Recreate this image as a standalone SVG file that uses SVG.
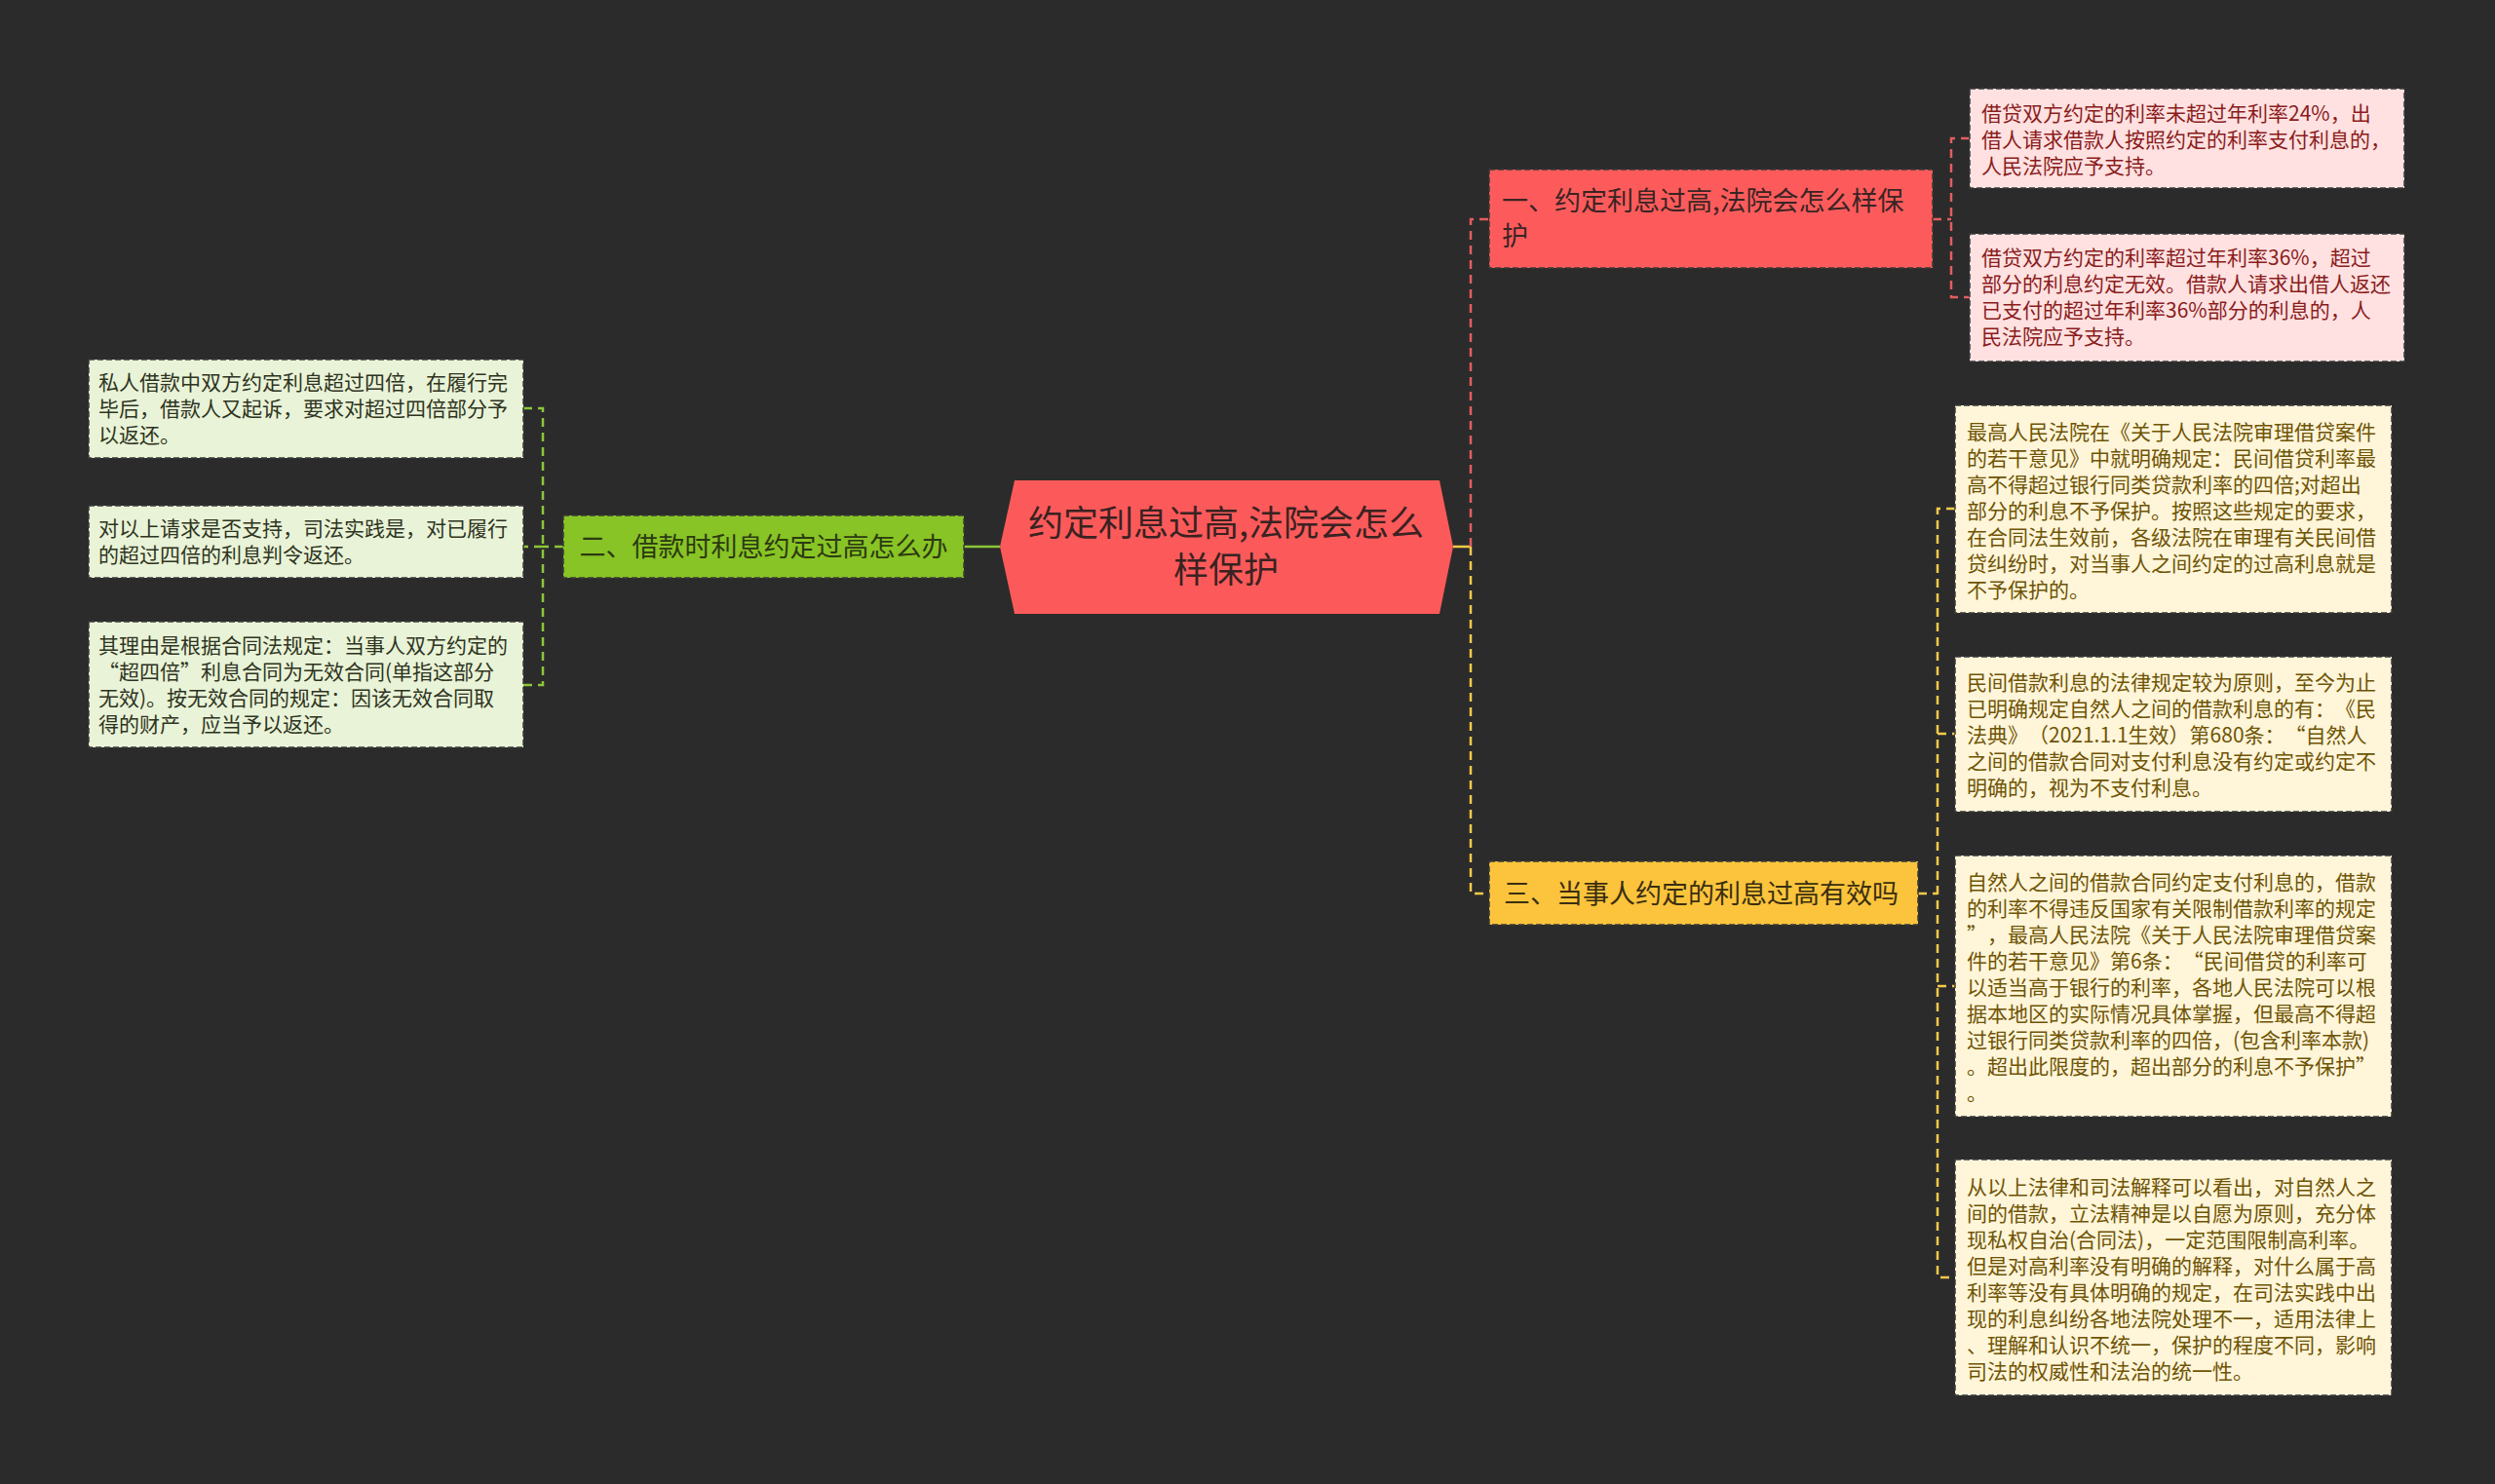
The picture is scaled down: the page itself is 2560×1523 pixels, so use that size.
<svg xmlns="http://www.w3.org/2000/svg" width="2560" height="1523" viewBox="0 0 2560 1523">
<style>
text{font-family:"Noto Sans CJK SC","Noto Sans",sans-serif;text-spacing-trim:space-all}
.root{font-size:36px;fill:#3a2222}
.b{font-size:27px}
.b1t{fill:#3a2424}
.b2t{fill:#2c3a12}
.b3t{fill:#3a2e10}
.lf{font-size:21px}
.pk{fill:#8a1c1c}
.gn{fill:#2e3322}
.yl{fill:#6e5405}
.bx{stroke:#3a3a3a;stroke-width:1.5;stroke-dasharray:6 3}
.pkb{fill:#ffe1e1}
.gnb{fill:#e9f3d7}
.ylb{fill:#fff5d9}
.cr{fill:none;stroke:#e35d5f;stroke-width:2.5;stroke-dasharray:9 6}
.cg{fill:none;stroke:#8cc63a;stroke-width:2.5;stroke-dasharray:9 6}
.cy{fill:none;stroke:#f6c948;stroke-width:2.5;stroke-dasharray:9 6}
</style>
<rect width="2560" height="1523" fill="#2b2b2b"/>
<g id="connectors">
<line x1="1491" y1="561" x2="1509" y2="561" stroke="#f6c948" stroke-width="2.5"/>
<path class="cr" d="M1509,561 V225 H1528"/>
<path class="cy" d="M1509,561 V917 H1528"/>
<path class="cr" d="M1983,225 H2002"/>
<path class="cr" d="M2021,142 H2002 V305 H2021"/>
<path class="cy" d="M1968,917 H1988"/>
<path class="cy" d="M2006,522 H1988 V1311 H2006 M1988,753 H2006 M1988,1012 H2006"/>
<line x1="1026" y1="561" x2="998" y2="561" stroke="#8cc63a" stroke-width="2.5"/>
<path class="cg" d="M989,561 H998"/>
<path class="cg" d="M578,561 H557"/>
<path class="cg" d="M537,419 H557 V703 H537 M557,561 H537"/>
</g>
<g id="root">
<polygon points="1026,561 1041,493 1477,493 1491,561 1477,630 1041,630" fill="#fc5a5a"/>
<text class="root" x="1258" y="550" text-anchor="middle">约定利息过高,法院会怎么</text>
<text class="root" x="1258" y="598" text-anchor="middle">样保护</text>
</g>
<g id="branch1">
<rect class="bx" x="1528" y="174" width="455" height="101" fill="#fd5b5b"/>
<text class="b b1t" x="1541" y="216">一、约定利息过高,法院会怎么样保</text>
<text class="b b1t" x="1541" y="252">护</text>
</g>
<g id="leaf1a">
<rect class="bx pkb" x="2021" y="91" width="446" height="102"/>
<text class="lf pk" x="2033" y="124">借贷双方约定的利率未超过年利率24%，出</text>
<text class="lf pk" x="2033" y="151">借人请求借款人按照约定的利率支付利息的，</text>
<text class="lf pk" x="2033" y="178">人民法院应予支持。</text>
</g>
<g id="leaf1b">
<rect class="bx pkb" x="2021" y="240" width="446" height="131"/>
<text class="lf pk" x="2033" y="272">借贷双方约定的利率超过年利率36%，超过</text>
<text class="lf pk" x="2033" y="299">部分的利息约定无效。借款人请求出借人返还</text>
<text class="lf pk" x="2033" y="326">已支付的超过年利率36%部分的利息的，人</text>
<text class="lf pk" x="2033" y="353">民法院应予支持。</text>
</g>
<g id="branch2">
<rect class="bx" x="578" y="529" width="411" height="64" fill="#88c425"/>
<text class="b b2t" x="783.5" y="571" text-anchor="middle">二、借款时利息约定过高怎么办</text>
</g>
<g id="leaf2a">
<rect class="bx gnb" x="91" y="369" width="446" height="101"/>
<text class="lf gn" x="101" y="400">私人借款中双方约定利息超过四倍，在履行完</text>
<text class="lf gn" x="101" y="427">毕后，借款人又起诉，要求对超过四倍部分予</text>
<text class="lf gn" x="101" y="454">以返还。</text>
</g>
<g id="leaf2b">
<rect class="bx gnb" x="91" y="519" width="446" height="74"/>
<text class="lf gn" x="101" y="550">对以上请求是否支持，司法实践是，对已履行</text>
<text class="lf gn" x="101" y="577">的超过四倍的利息判令返还。</text>
</g>
<g id="leaf2c">
<rect class="bx gnb" x="91" y="638" width="446" height="129"/>
<text class="lf gn" x="101" y="670">其理由是根据合同法规定：当事人双方约定的</text>
<text class="lf gn" x="101" y="697">“超四倍”利息合同为无效合同(单指这部分</text>
<text class="lf gn" x="101" y="724">无效)。按无效合同的规定：因该无效合同取</text>
<text class="lf gn" x="101" y="751">得的财产，应当予以返还。</text>
</g>
<g id="branch3">
<rect class="bx" x="1528" y="884" width="440" height="65" fill="#fbc43c"/>
<text class="b b3t" x="1543" y="927">三、当事人约定的利息过高有效吗</text>
</g>
<g id="leaf3a">
<rect class="bx ylb" x="2006" y="416" width="448" height="213"/>
<text class="lf yl" x="2018" y="451">最高人民法院在《关于人民法院审理借贷案件</text>
<text class="lf yl" x="2018" y="478">的若干意见》中就明确规定：民间借贷利率最</text>
<text class="lf yl" x="2018" y="505">高不得超过银行同类贷款利率的四倍;对超出</text>
<text class="lf yl" x="2018" y="532">部分的利息不予保护。按照这些规定的要求，</text>
<text class="lf yl" x="2018" y="559">在合同法生效前，各级法院在审理有关民间借</text>
<text class="lf yl" x="2018" y="586">贷纠纷时，对当事人之间约定的过高利息就是</text>
<text class="lf yl" x="2018" y="613">不予保护的。</text>
</g>
<g id="leaf3b">
<rect class="bx ylb" x="2006" y="674" width="448" height="159"/>
<text class="lf yl" x="2018" y="708">民间借款利息的法律规定较为原则，至今为止</text>
<text class="lf yl" x="2018" y="735">已明确规定自然人之间的借款利息的有：《民</text>
<text class="lf yl" x="2018" y="762">法典》（2021.1.1生效）第680条：“自然人</text>
<text class="lf yl" x="2018" y="789">之间的借款合同对支付利息没有约定或约定不</text>
<text class="lf yl" x="2018" y="816">明确的，视为不支付利息。</text>
</g>
<g id="leaf3c">
<rect class="bx ylb" x="2006" y="878" width="448" height="268"/>
<text class="lf yl" x="2018" y="913">自然人之间的借款合同约定支付利息的，借款</text>
<text class="lf yl" x="2018" y="940">的利率不得违反国家有关限制借款利率的规定</text>
<text class="lf yl" x="2018" y="967">”，最高人民法院《关于人民法院审理借贷案</text>
<text class="lf yl" x="2018" y="994">件的若干意见》第6条：“民间借贷的利率可</text>
<text class="lf yl" x="2018" y="1021">以适当高于银行的利率，各地人民法院可以根</text>
<text class="lf yl" x="2018" y="1048">据本地区的实际情况具体掌握，但最高不得超</text>
<text class="lf yl" x="2018" y="1075">过银行同类贷款利率的四倍，(包含利率本款)</text>
<text class="lf yl" x="2018" y="1102">。超出此限度的，超出部分的利息不予保护”</text>
<text class="lf yl" x="2018" y="1129">。</text>
</g>
<g id="leaf3d">
<rect class="bx ylb" x="2006" y="1190" width="448" height="242"/>
<text class="lf yl" x="2018" y="1226">从以上法律和司法解释可以看出，对自然人之</text>
<text class="lf yl" x="2018" y="1253">间的借款，立法精神是以自愿为原则，充分体</text>
<text class="lf yl" x="2018" y="1280">现私权自治(合同法)，一定范围限制高利率。</text>
<text class="lf yl" x="2018" y="1307">但是对高利率没有明确的解释，对什么属于高</text>
<text class="lf yl" x="2018" y="1334">利率等没有具体明确的规定，在司法实践中出</text>
<text class="lf yl" x="2018" y="1361">现的利息纠纷各地法院处理不一，适用法律上</text>
<text class="lf yl" x="2018" y="1388">、理解和认识不统一，保护的程度不同，影响</text>
<text class="lf yl" x="2018" y="1415">司法的权威性和法治的统一性。</text>
</g>
</svg>
